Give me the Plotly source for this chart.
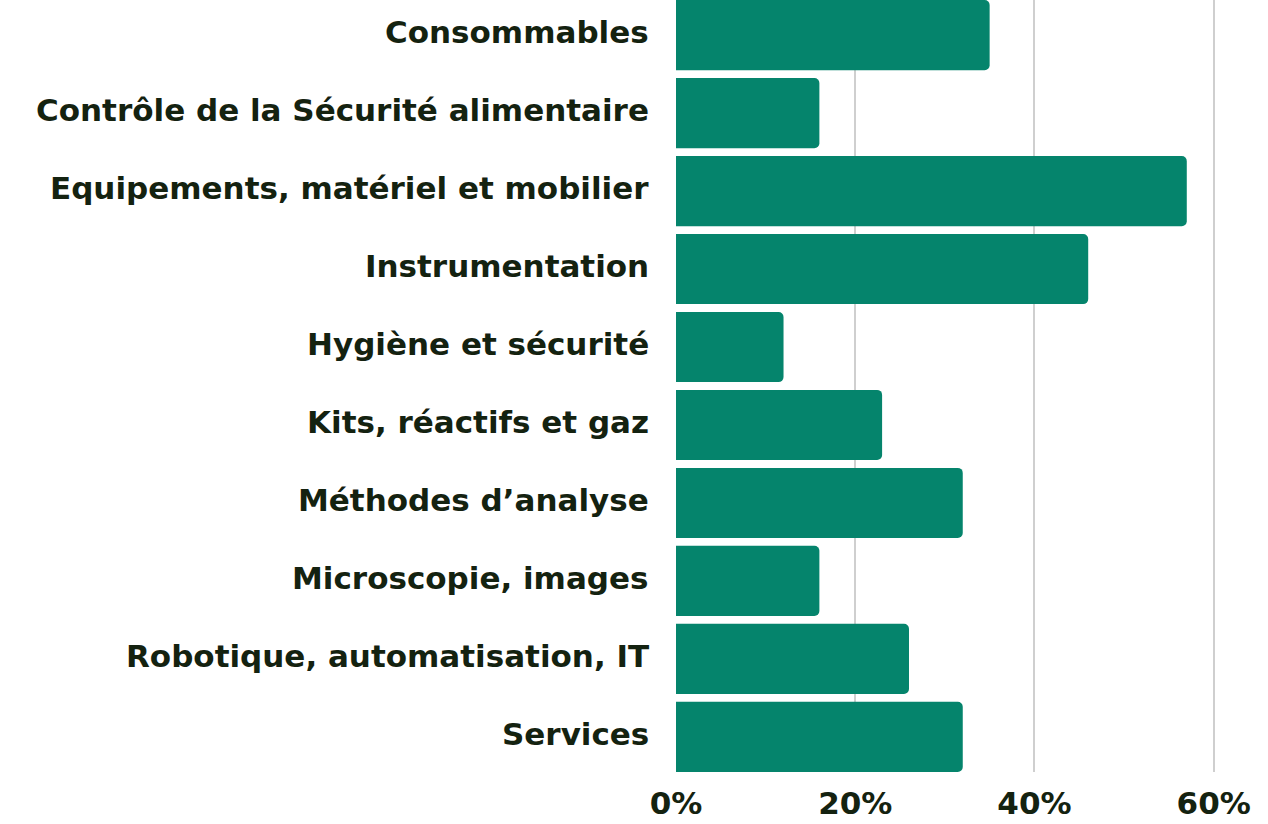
import plotly.graph_objects as go

categories = [
    "Consommables",
    "Contrôle de la Sécurité alimentaire",
    "Equipements, matériel et mobilier",
    "Instrumentation",
    "Hygiène et sécurité",
    "Kits, réactifs et gaz",
    "Méthodes d’analyse",
    "Microscopie, images",
    "Robotique, automatisation, IT",
    "Services",
]
values = [35, 16, 57, 46, 12, 23, 32, 16, 26, 32]
x_ticks = [0, 20, 40, 60]
x_tick_labels = ["0%", "20%", "40%", "60%"]

FONT = "DejaVu Sans"
TEXT_COLOR = "#142210"

fig = go.Figure(
    go.Bar(
        x=values,
        y=categories,
        orientation="h",
        marker=dict(color="#05846c", line=dict(width=0)),
        width=0.9,
        hoverinfo="skip",
    )
)

fig.update_layout(
    width=1268,
    height=824,
    margin=dict(l=676, r=40, t=0, b=52, autoexpand=False),
    plot_bgcolor="white",
    paper_bgcolor="white",
    barcornerradius=5,
    showlegend=False,
    font=dict(family=FONT, color=TEXT_COLOR, size=31, weight="bold"),
)

for cat in categories:
    fig.add_annotation(
        x=0,
        xref="paper",
        y=cat,
        yref="y",
        text=cat,
        showarrow=False,
        xanchor="right",
        yanchor="middle",
        xshift=-25,
        yshift=3,
        font=dict(family=FONT, size=31, color=TEXT_COLOR, weight="bold"),
    )

fig.update_xaxes(
    range=[0, 61.6],
    tickvals=x_ticks,
    ticktext=x_tick_labels,
    showgrid=True,
    gridcolor="#cfcfcf",
    gridwidth=2,
    zeroline=False,
    showline=False,
    ticks="",
    tickfont=dict(family=FONT, size=31, color=TEXT_COLOR, weight="bold"),
    ticklabelstandoff=10,
)

fig.update_yaxes(
    categoryorder="array",
    categoryarray=categories,
    range=[9.45, -0.45],
    showgrid=False,
    zeroline=False,
    showline=False,
    ticks="",
    showticklabels=False,
)

fig.write_html(
    "out.html",
    config={"displayModeBar": False},
    post_script="document.body.style.margin='0';document.body.style.overflow='hidden';",
)
